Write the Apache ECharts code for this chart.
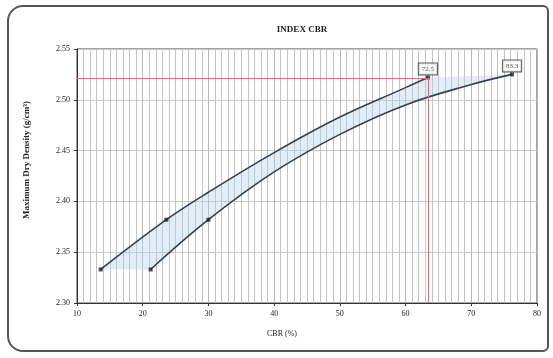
<!DOCTYPE html>
<html>
<head>
<meta charset="utf-8">
<script src="https://cdn.jsdelivr.net/npm/echarts@6/dist/echarts.min.js"></script>
<style>
  html, body { margin: 0; padding: 0; background: #fff; }
  #chart { width: 553px; height: 358px; }
  .frame { position: absolute; left: 7px; top: 5px; width: 538px; height: 343px;
    border: 2px solid #555; border-radius: 16px 6px 6px 16px; pointer-events: none; }
</style>
</head>
<body>
<div id="chart"></div>
<div class="frame"></div>
<script>
  // curve (CBR %, density)
  var upperCbr = [13.6, 23.6, 30, 40, 50, 60, 63.4];
  var upperDen = [2.333, 2.382, 2.409, 2.448, 2.483, 2.512, 2.522];
  var lowerCbr = [21.2, 30, 40, 50, 60, 70, 76.2];
  var lowerDen = [2.333, 2.382, 2.429, 2.466, 2.495, 2.515, 2.525];
  // measured points with markers
  var upperPtCbr = [13.6, 23.6, 63.4];
  var upperPtDen = [2.333, 2.382, 2.522];
  var lowerPtCbr = [21.2, 30, 76.2];
  var lowerPtDen = [2.333, 2.382, 2.525];
  // end labels
  var endLabels = ['72.5', '83.3'];
  // red reference lines
  var refCbr = 63.4;
  var refDen = 2.5215;
  var xMin = 10, xMax = 80, yMin = 2.30, yMax = 2.55;

  function pairs(xs, ys) {
    var out = [];
    for (var i = 0; i < xs.length; i++) out.push([xs[i], ys[i]]);
    return out;
  }

  var chart = echarts.init(document.getElementById('chart'));
  var lineColor = '#34404d';
  var font = 'Liberation Serif';

  chart.setOption({
    animation: false,
    title: {
      text: 'INDEX CBR',
      left: 297, top: 20,
      textAlign: 'center',
      textStyle: { fontFamily: font, fontSize: 9, fontWeight: 'bold', color: '#222' }
    },
    grid: { left: 77, right: 16, top: 49, bottom: 55, show: true, borderColor: '#444', borderWidth: 1 },
    xAxis: {
      type: 'value', min: xMin, max: xMax, interval: 10,
      name: 'CBR (%)', nameLocation: 'middle', nameGap: 27,
      nameTextStyle: { fontFamily: font, fontSize: 8, color: '#222', padding: [0, 50, 0, 0] },
      axisLine: { lineStyle: { color: '#333' } },
      axisTick: { show: true, length: 3, lineStyle: { color: '#333' } },
      axisLabel: { fontFamily: font, fontSize: 8, color: '#222', margin: 7 },
      splitLine: { show: true, lineStyle: { color: '#b8b8b8', width: 1 } },
      minorTick: { show: false, splitNumber: 10 },
      minorSplitLine: { show: true, lineStyle: { color: '#c4c4c4', width: 1 } }
    },
    yAxis: {
      type: 'value', min: yMin, max: yMax, interval: 0.05,
      name: 'Maximum Dry Density (g/cm³)', nameLocation: 'middle', nameGap: 46,
      nameTextStyle: { fontFamily: font, fontSize: 9, fontWeight: 'bold', color: '#222', padding: [0, 0, 0, 32] },
      axisLine: { show: true, lineStyle: { color: '#333' } },
      axisTick: { show: true, length: 3, lineStyle: { color: '#333' } },
      axisLabel: { fontFamily: font, fontSize: 8, color: '#222', margin: 7,
        formatter: function (v) { return v.toFixed(2); } },
      splitLine: { show: true, lineStyle: { color: '#c8c8c8' } }
    },
    series: [
      {
        type: 'custom',
        silent: true,
        z: 1,
        data: [0],
        renderItem: function (params, api) {
          var pts = [];
          for (var i = 0; i < upperCbr.length; i++) pts.push(api.coord([upperCbr[i], upperDen[i]]));
          for (var j = lowerCbr.length - 1; j >= 0; j--) pts.push(api.coord([lowerCbr[j], lowerDen[j]]));
          return {
            type: 'polygon',
            shape: { points: pts },
            style: { fill: 'rgba(180, 212, 238, 0.4)', stroke: 'none' }
          };
        }
      },
      {
        type: 'line', smooth: 0.4, symbol: 'none', z: 3,
        data: pairs(upperCbr, upperDen),
        lineStyle: { color: lineColor, width: 1.6 },
        markLine: {
          silent: true, symbol: 'none', label: { show: false },
          lineStyle: { color: '#e07070', width: 1.2, type: 'solid' },
          data: [
            [{ coord: [xMin, refDen] }, { coord: [refCbr, refDen] }],
            [{ coord: [refCbr, refDen] }, { coord: [refCbr, yMin] }]
          ]
        }
      },
      {
        type: 'line', smooth: 0.4, symbol: 'none', z: 3,
        data: pairs(lowerCbr, lowerDen),
        lineStyle: { color: lineColor, width: 1.6 }
      },
      {
        type: 'scatter', symbol: 'rect', symbolSize: 4, z: 4,
        itemStyle: { color: '#222' },
        data: pairs(upperPtCbr, upperPtDen).concat(pairs(lowerPtCbr, lowerPtDen))
      },
      {
        type: 'scatter', symbolSize: 0, z: 5,
        data: [
          { value: [upperPtCbr[2], upperPtDen[2]], label: { formatter: endLabels[0] } },
          { value: [lowerPtCbr[2], lowerPtDen[2]], label: { formatter: endLabels[1] } }
        ],
        label: {
          show: true, position: 'top', distance: 3,
          fontFamily: font, fontSize: 7, color: '#222',
          backgroundColor: '#fff', borderColor: '#333', borderWidth: 1, padding: [2, 3]
        }
      }
    ]
  });
</script>
</body>
</html>
